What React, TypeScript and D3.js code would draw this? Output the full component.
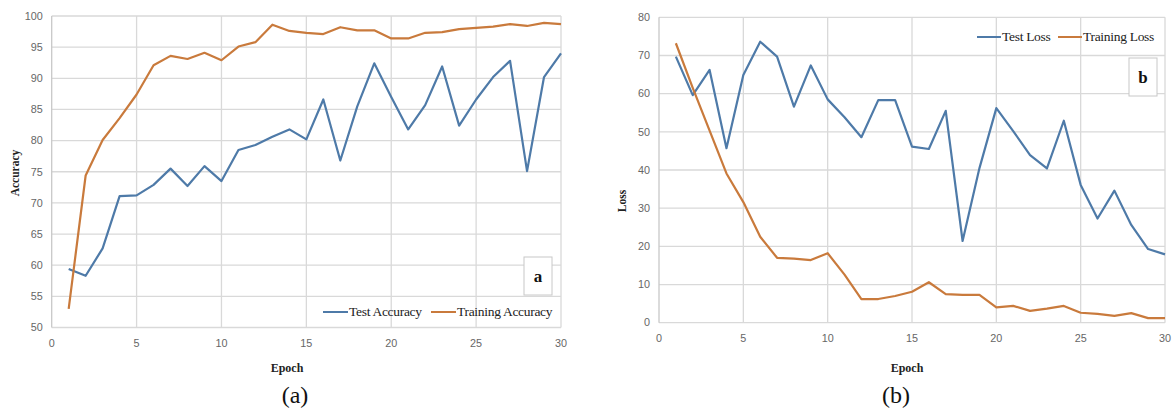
import React from "react";
import * as d3 from "d3";

const epochs = d3.range(1, 31);
const testAccuracy = [59.4, 58.3, 62.7, 71.1, 71.2, 72.9, 75.5, 72.7, 75.9, 73.5, 78.5, 79.3, 80.6, 81.8, 80.2, 86.6, 76.8, 85.5, 92.4, 87.0, 81.8, 85.7, 91.9, 82.4, 86.6, 90.2, 92.8, 75.1, 90.2, 94.0];
const trainAccuracy = [53.0, 74.4, 80.1, 83.6, 87.4, 92.1, 93.6, 93.1, 94.1, 92.9, 95.1, 95.8, 98.6, 97.6, 97.3, 97.1, 98.2, 97.7, 97.7, 96.4, 96.4, 97.3, 97.4, 97.9, 98.1, 98.3, 98.7, 98.4, 98.9, 98.7];
const testLoss = [69.7, 59.6, 66.2, 45.7, 64.9, 73.6, 69.7, 56.6, 67.4, 58.5, 53.8, 48.6, 58.3, 58.3, 46.1, 45.5, 55.5, 21.4, 40.5, 56.2, 50.2, 43.9, 40.4, 52.9, 36.1, 27.3, 34.6, 25.6, 19.3, 17.9];
const trainLoss = [73.2, 61.5, 50.3, 39.1, 31.6, 22.5, 17.0, 16.8, 16.4, 18.2, 12.6, 6.2, 6.2, 7.0, 8.1, 10.6, 7.5, 7.3, 7.3, 4.0, 4.4, 3.1, 3.7, 4.4, 2.6, 2.3, 1.8, 2.5, 1.2, 1.2];

const accTicks = [50, 55, 60, 65, 70, 75, 80, 85, 90, 95, 100];
const lossTicks = [0, 10, 20, 30, 40, 50, 60, 70, 80];
const xTicks = [0, 5, 10, 15, 20, 25, 30];

const BLUE = "#4e7aa8";
const ORANGE = "#c97a3c";
const GRID = "#d9d9d9";
const TICK = "#666666";
const SERIF = "'Liberation Serif', 'Times New Roman', serif";
const SANS = "'Liberation Sans', Arial, sans-serif";

type ChartProps = {
  x0: number; x1: number; y0: number; y1: number;
  yDomain: [number, number]; yTicks: number[];
  series: { values: number[]; color: string; name: string }[];
  yLabel: string; yLabelX: number; yLabelY: number;
  epochX: number; capX: number; caption: string;
  legendX: number[]; legendY: number; legendW: number;
  boxX: number; boxY: number; boxLetter: string;
};

function Chart(p: ChartProps) {
  const x = d3.scaleLinear().domain([0, 30]).range([p.x0, p.x1]);
  const y = d3.scaleLinear().domain(p.yDomain).range([p.y1, p.y0]);
  const line = d3.line<number>().x((_, i) => x(epochs[i])).y((d) => y(d));
  return (
    <g>
      {p.yTicks.map((t) => (
        <line key={"h" + t} x1={p.x0} x2={p.x1} y1={y(t)} y2={y(t)} stroke={GRID} strokeWidth={1.3} />
      ))}
      {xTicks.map((t) => (
        <line key={"v" + t} x1={x(t)} x2={x(t)} y1={p.y0} y2={p.y1} stroke={t === 0 ? "#c8c8c8" : GRID} strokeWidth={1.3} />
      ))}
      {p.yTicks.map((t) => (
        <text key={"yt" + t} x={p.x0 - 9} y={y(t)} dy="0.35em" textAnchor="end" fontFamily={SANS} fontSize={10.8} fill={TICK}>{t}</text>
      ))}
      {xTicks.map((t) => (
        <text key={"xt" + t} x={x(t)} y={p.y1 + 19} textAnchor="middle" fontFamily={SANS} fontSize={10.8} fill={TICK}>{t}</text>
      ))}
      {p.series.map((s) => (
        <path key={s.name} d={line(s.values) || ""} fill="none" stroke={s.color} strokeWidth={2.2} strokeLinejoin="round" />
      ))}
      {p.series.map((s, i) => (
        <g key={"lg" + s.name}>
          <line x1={p.legendX[i]} x2={p.legendX[i] + p.legendW} y1={p.legendY} y2={p.legendY} stroke={s.color} strokeWidth={2} />
          <text x={p.legendX[i] + p.legendW + 1} y={p.legendY} dy="0.33em" fontFamily={SERIF} fontSize={13.5} fill="#222" letterSpacing={-0.3}>{s.name}</text>
        </g>
      ))}
      <rect x={p.boxX} y={p.boxY} width={28} height={38} fill="#fff" stroke="#c8c8c8" strokeWidth={1} />
      <text x={p.boxX + 14} y={p.boxY + 19} dy="0.35em" textAnchor="middle" fontFamily={SERIF} fontWeight="bold" fontSize={17} fill="#111">{p.boxLetter}</text>
      <text transform={`translate(${p.yLabelX},${p.yLabelY}) rotate(-90)`} textAnchor="middle" dy="0.35em" fontFamily={SERIF} fontWeight="bold" fontSize={11.5} fill="#222">{p.yLabel}</text>
      <text x={p.epochX} y={372} textAnchor="middle" fontFamily={SERIF} fontWeight="bold" fontSize={12} fill="#222">Epoch</text>
      <text x={p.capX} y={403} textAnchor="middle" fontFamily={SERIF} fontSize={24} fill="#111">{p.caption}</text>
    </g>
  );
}

export default function App() {
  return (
    <svg width={1172} height={409} style={{ position: "absolute", left: 0, top: 0, background: "#fff" }}>
      <rect width={1172} height={409} fill="#fff" />
      <Chart
        x0={51.7} x1={561} y0={16} y1={327.5}
        yDomain={[50, 100]} yTicks={accTicks}
        series={[
          { values: testAccuracy, color: BLUE, name: "Test Accuracy" },
          { values: trainAccuracy, color: ORANGE, name: "Training Accuracy" },
        ]}
        yLabel="Accuracy" yLabelX={15} yLabelY={173}
        epochX={287} capX={295} caption="(a)"
        legendX={[323, 431]} legendY={312} legendW={25}
        boxX={524} boxY={257} boxLetter="a"
      />
      <Chart
        x0={659} x1={1165} y0={17.3} y1={322.7}
        yDomain={[0, 80]} yTicks={lossTicks}
        series={[
          { values: testLoss, color: BLUE, name: "Test Loss" },
          { values: trainLoss, color: ORANGE, name: "Training Loss" },
        ]}
        yLabel="Loss" yLabelX={622} yLabelY={201}
        epochX={907} capX={896} caption="(b)"
        legendX={[977, 1058]} legendY={37} legendW={24}
        boxX={1129} boxY={58} boxLetter="b"
      />
    </svg>
  );
}
